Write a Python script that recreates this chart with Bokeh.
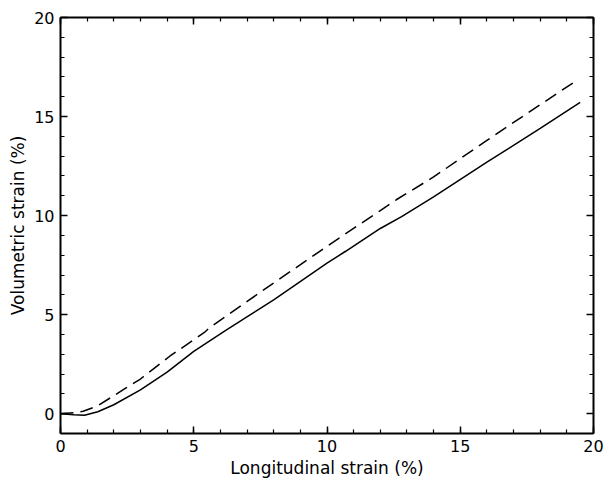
from bokeh.plotting import figure
from bokeh.models import Range1d, LinearAxis, SingleIntervalTicker, CustomLabelingPolicy
from bokeh.embed import file_html
from bokeh.resources import INLINE

# Solid curve (longitudinal strain %, volumetric strain %)
solid_x = [0.0, 0.5, 0.9, 1.4, 2.0, 3.0, 4.0, 5.0, 6.2, 8.0, 10.0, 10.7, 12.0, 12.8, 14.0, 16.0, 18.0, 19.5]
solid_y = [0.0, -0.05, -0.08, 0.1, 0.45, 1.2, 2.1, 3.15, 4.2, 5.75, 7.6, 8.2, 9.35, 9.95, 10.95, 12.7, 14.4, 15.72]

# Dashed curve
dash_x = [0.0, 0.5, 0.85, 1.4, 2.4, 3.0, 4.1, 5.4, 5.6, 8.0, 10.6, 12.0, 12.6, 14.0, 16.0, 18.0, 19.4]
dash_y = [0.0, 0.05, 0.12, 0.4, 1.25, 1.75, 2.9, 4.1, 4.35, 6.6, 9.0, 10.25, 10.8, 11.95, 13.8, 15.6, 16.85]

x_label = "Longitudinal strain (%)"
y_label = "Volumetric strain (%)"

FONT = "DejaVu Sans"

p = figure(width=608, height=485, output_backend="svg", toolbar_location=None,
           x_range=Range1d(0, 20), y_range=Range1d(-1, 20),
           x_axis_label=x_label, y_axis_label=y_label)
p.min_border_left = 60
p.min_border_right = 15
p.min_border_top = 17
p.min_border_bottom = 52
p.outline_line_color = None
p.xgrid.visible = False
p.ygrid.visible = False
p.background_fill_color = "white"
p.border_fill_color = "white"


def style(ax, labels=True):
    ax.ticker = SingleIntervalTicker(interval=5, num_minor_ticks=5)
    ax.axis_line_width = 2
    ax.axis_line_color = "black"
    ax.major_tick_in = 7
    ax.major_tick_out = 0
    ax.minor_tick_in = 4
    ax.minor_tick_out = 0
    ax.major_tick_line_width = 1.5
    ax.minor_tick_line_width = 1.2
    ax.major_tick_line_color = "black"
    ax.minor_tick_line_color = "black"
    if labels:
        ax.major_label_text_font = FONT
        ax.major_label_text_font_size = "16px"
        ax.major_label_text_color = "black"
        ax.axis_label_text_font = FONT
        ax.axis_label_text_font_size = "17px"
        ax.axis_label_text_font_style = "normal"
        ax.axis_label_text_color = "black"
        ax.major_label_standoff = 6
        ax.axis_label_standoff = 3
    else:
        ax.major_label_policy = CustomLabelingPolicy(code="return []")
        ax.major_label_standoff = 0


for ax in p.xaxis:
    style(ax)
for ax in p.yaxis:
    style(ax)

top = LinearAxis()
style(top, labels=False)
p.add_layout(top, "above")
right = LinearAxis()
style(right, labels=False)
p.add_layout(right, "right")

p.line(solid_x, solid_y, line_color="black", line_width=1.5)
p.line(dash_x, dash_y, line_color="black", line_width=1.5, line_dash="13 7")

open("out.html", "w").write(file_html(p, INLINE))
